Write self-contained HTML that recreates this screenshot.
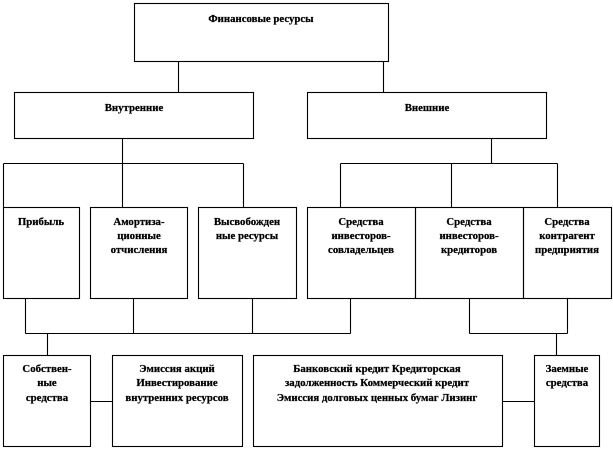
<!DOCTYPE html>
<html><head><meta charset="utf-8"><style>
html,body{margin:0;padding:0;background:#fff;width:613px;height:450px;overflow:hidden}
svg{display:block}
text{font-family:"Liberation Serif",serif;font-weight:bold;font-size:10.8px;fill:#000;text-anchor:middle;stroke:#000;stroke-width:0.25}
</style></head><body>
<svg width="613" height="450" viewBox="0 0 613 450" xmlns="http://www.w3.org/2000/svg">
<g fill="none" stroke="#000" stroke-width="1.1">
<rect x="134.5" y="3.5" width="254" height="58"/>
<rect x="14.5" y="92.5" width="239" height="46"/>
<rect x="307.5" y="92.5" width="239" height="46"/>
<rect x="3.5" y="207.5" width="76" height="91"/>
<rect x="90.5" y="207.5" width="97" height="91"/>
<rect x="198.5" y="207.5" width="98" height="91"/>
<rect x="307.5" y="207.5" width="108" height="91"/>
<rect x="415.5" y="207.5" width="108" height="91"/>
<rect x="523.5" y="207.5" width="88" height="91"/>
<rect x="3.5" y="355.5" width="87" height="91"/>
<rect x="112.5" y="355.5" width="130" height="91"/>
<rect x="253.5" y="355.5" width="249" height="91"/>
<rect x="534.5" y="355.5" width="65" height="91"/>
<path d="M178.5 61.5V92.5M383.5 61.5V92.5"/>
<path d="M122.5 138.5V163.5M3.5 163.5H243.5M3.5 163.5V207.5M122.5 163.5V207.5M243.5 163.5V207.5"/>
<path d="M491.5 138.5V163.5M340.5 163.5H557.5M340.5 163.5V207.5M451.5 163.5V207.5M557.5 163.5V207.5"/>
<path d="M25.5 298.5V333.5M133.5 298.5V333.5M252.5 298.5V333.5M350.5 298.5V333.5M25.5 333.5H350.5M47.5 333.5V355.5"/>
<path d="M469.5 298.5V333.5M567.5 298.5V333.5M469.5 333.5H567.5M556.5 333.5V355.5"/>
<path d="M90.5 401.5H112.5M502.5 401.5H534.5"/>
</g>
<text x="261" y="22">Финансовые ресурсы</text>
<text x="134" y="111">Внутренние</text>
<text x="427" y="111">Внешние</text>
<text x="41" y="225">Прибыль</text>
<text x="139" y="225">Амортиза-</text>
<text x="139" y="239">ционные</text>
<text x="139" y="253">отчисления</text>
<text x="247" y="225">Высвобожден</text>
<text x="247" y="239">ные ресурсы</text>
<text x="361" y="225">Средства</text>
<text x="361" y="239">инвесторов-</text>
<text x="361" y="253">совладельцев</text>
<text x="469" y="225">Средства</text>
<text x="469" y="239">инвесторов-</text>
<text x="469" y="253">кредиторов</text>
<text x="567" y="225">Средства</text>
<text x="567" y="239">контрагент</text>
<text x="567" y="253">предприятия</text>
<text x="47" y="372">Собствен-</text>
<text x="47" y="386">ные</text>
<text x="47" y="401">средства</text>
<text x="177" y="372">Эмиссия акций</text>
<text x="177" y="386">Инвестирование</text>
<text x="177" y="401">внутренних ресурсов</text>
<text x="377" y="372">Банковский кредит Кредиторская</text>
<text x="377" y="386">задолженность Коммерческий кредит</text>
<text x="377" y="401">Эмиссия долговых ценных бумаг Лизинг</text>
<text x="567" y="372">Заемные</text>
<text x="567" y="386">средства</text>
</svg>
</body></html>
